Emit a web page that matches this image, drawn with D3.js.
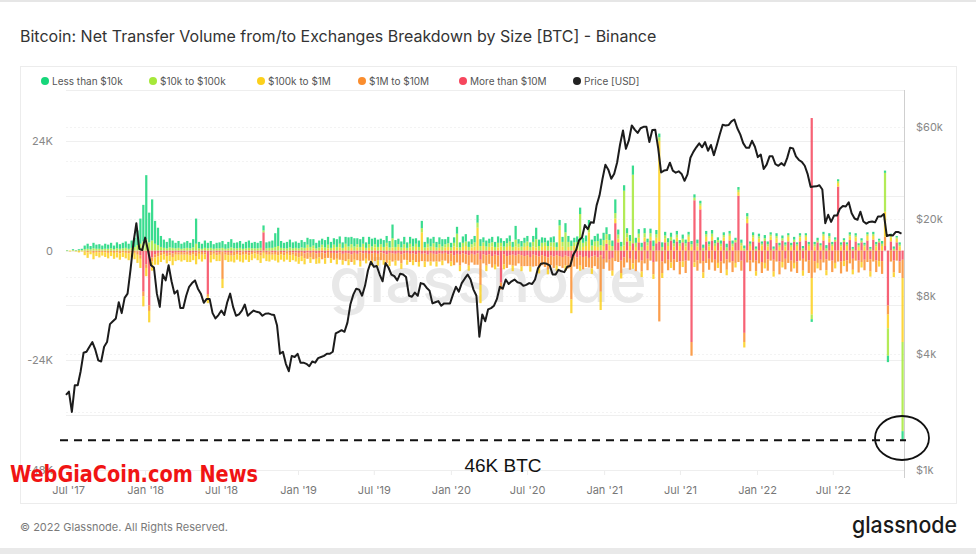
<!DOCTYPE html>
<html><head><meta charset="utf-8">
<script src="https://cdn.jsdelivr.net/npm/d3@7"></script>
<style>
html,body{margin:0;padding:0;background:#fff;}
svg{display:block;font-family:Inter,"Noto Sans",sans-serif;}
</style></head>
<body>
<svg id="c" width="976" height="554"></svg>
<script>
// ---------- DATA ----------
// weekly bins starting 2017-06-26 (286 weeks); flows in hundreds of BTC (net, + = inflow)
const seriesNames = ["Less than $10k","$10k to $100k","$100k to $1M","$1M to $10M","More than $10M"];
const lt10k = [
1,0,2,1,2,3,8,11,7,12,9,10,8,
11,9,12,8,13,10,12,14,11,16,20,32,55,
80,140,65,90,50,38,24,18,14,20,16,12,15,
11,13,15,12,18,55,14,11,16,12,15,10,12,
13,15,10,14,18,12,13,15,11,14,16,12,14,
12,15,11,13,14,16,30,40,15,12,14,17,13,
14,12,16,13,15,17,14,12,15,13,16,17,13,
14,17,16,12,15,20,16,18,13,17,15,12,16,
17,14,16,12,15,15,14,30,15,12,13,16,12,
15,17,12,14,16,12,14,17,14,12,15,16,11,
14,10,12,15,11,14,16,12,11,14,17,15,11,
13,10,12,11,14,10,12,11,13,11,30,10,12,
11,12,10,13,25,14,12,10,12,11,13,10,12,
11,20,13,12,10,12,14,11,13,15,13,12,16,
14,16,15,13,12,30,11,10,12,11,13,20,11,
10,9,11,8,10,12,9,8,10,8,9,9,8,
8,7,9,8,6,7,7,8,6,7,7,6,8,
7,6,7,6,8,6,7,5,6,7,6,7,5,
6,5,6,5,7,6,5,5,6,5,6,5,4,
5,6,4,5,5,4,5,-6,5,6,4,5,7,
6,5,5,4,5,4,4,5,4,5,4,5,4,
4,4,5,5,4,6,5,-14,4,5,3,5,-20];
const k10to100k = [
0,0,1,0,1,1,3,4,3,5,4,4,3,
4,4,5,3,5,4,5,6,4,6,8,12,15,
20,25,18,22,15,12,8,6,5,7,6,5,6,
4,5,6,5,7,15,5,4,6,5,6,4,5,
5,6,4,5,7,5,5,6,4,5,6,5,5,
5,6,4,5,6,6,8,10,6,5,5,7,5,
6,5,7,6,7,8,6,5,7,6,7,8,6,
7,8,8,6,7,9,8,9,7,8,7,6,8,
9,7,8,6,8,8,7,20,8,6,7,8,6,
8,9,7,8,9,7,8,9,8,7,8,9,7,
8,7,8,30,7,9,10,8,7,9,11,10,8,
9,8,9,8,10,8,9,8,10,8,15,8,9,
9,10,8,10,18,10,9,8,10,9,10,8,10,
10,40,11,10,8,10,80,9,10,12,11,10,13,
12,13,12,11,10,12,9,9,120,9,11,150,9,
9,8,9,7,8,10,8,8,8,7,8,8,7,
7,6,8,7,5,6,6,7,5,6,6,5,7,
6,5,6,5,7,5,6,5,5,6,5,6,5,
5,4,5,4,6,5,4,4,5,4,5,4,4,
4,5,4,4,5,4,4,-10,5,4,4,4,5,
5,4,4,4,4,4,4,4,4,4,4,4,4,
4,4,4,5,4,5,85,-60,4,4,3,4,-195];
const k100to1m = [
-1,-2,-1,-2,-3,-2,-8,-12,-6,-14,-9,-11,-8,
-10,-12,-9,-13,-11,-14,-10,-12,-15,-11,-14,-18,-20,
-22,-18,-25,-20,-16,-18,-15,-12,-16,-13,-18,-14,-12,
-15,-12,-16,-14,-13,-18,-12,-15,-11,-14,-16,-12,-13,
-14,-20,-12,-15,-13,-16,-12,-14,-17,-12,-15,-13,-11,
-13,-16,-12,-14,-15,-11,-13,-16,-12,-14,-13,-15,-12,
-12,-14,-11,-13,6,-12,5,-11,-13,7,-12,5,-10,
6,-12,7,-10,8,-13,6,-11,7,-12,8,-10,6,
-11,7,-12,8,-10,9,-13,7,-11,8,-12,6,-10,
7,-11,8,-10,40,-12,7,-9,8,-11,6,-10,7,
8,-10,9,7,-12,8,10,-11,7,9,50,-40,10,
-12,8,9,-10,7,9,-11,8,10,-12,9,7,-10,
8,10,-11,9,7,-12,8,10,-10,9,8,-11,45,
9,-12,8,-30,10,9,-11,8,10,40,-12,10,8,
-40,10,9,12,-11,10,8,-12,11,9,10,-12,8,
10,-12,9,11,8,-10,12,220,-11,8,10,-12,9,
8,10,-12,9,11,8,-10,9,8,-12,10,9,8,
10,-11,9,8,-12,10,9,-10,8,11,-12,9,10,
9,-10,8,11,-12,9,8,-11,10,8,-12,9,10,
8,-12,10,9,-11,8,10,-80,9,-12,8,10,-11,
9,10,-12,8,9,-11,10,8,-10,9,8,-12,9,
10,-11,8,9,-12,10,55,-30,9,-10,8,9,-140];
const m1to10m = [
0,0,0,0,-1,0,-2,-4,-2,-5,-3,-4,-3,
-4,-5,-3,-5,-4,-6,-4,-5,-6,-4,-5,-7,-8,
-10,-8,-12,-9,-7,-8,-6,-5,-7,-6,-8,-6,-5,
-6,-5,-7,-6,-5,-8,-5,-6,-4,-6,-7,-5,-6,
-6,-60,-5,-7,-6,-8,-5,-6,-7,-5,-6,-5,-4,
-5,-7,-5,-6,-7,-5,-6,-8,-5,-6,-5,-7,-5,
-8,-10,-9,-11,-14,-10,-16,-12,-10,-15,-11,-13,-12,
-15,-12,-16,-14,-18,-13,-17,-15,-14,-19,-16,-13,-15,
-16,-18,-14,-17,-15,-19,-16,-18,-15,-17,-20,-14,-16,
-18,-15,-17,-20,-16,-18,-15,-19,-17,-16,-18,-15,-17,
-20,-18,-22,-19,-24,-20,-21,-23,-19,-22,-25,-55,-20,
-23,-21,-25,-22,-24,-15,-22,-26,-21,-24,-22,-20,-25,
-22,-24,-21,-26,-23,-25,-22,-24,-27,-21,-25,-23,-22,
-24,-21,-26,-90,-23,-25,-22,-27,-24,-21,-26,-23,-25,
-80,-22,-26,-24,-28,-23,-25,-27,-22,-26,-24,-28,-25,
-26,-24,-28,-25,-22,-27,-24,-155,-25,-28,-23,-26,-24,
-25,-28,-24,-27,-22,-30,-26,-23,-28,-25,-27,-24,-26,
-24,-27,-25,-28,-23,-26,-24,-27,-25,-22,-20,-26,-24,
-26,-23,-28,-24,-27,-25,-22,-26,-24,-28,-25,-23,-27,
-24,-27,-25,-22,-26,-24,-28,-60,-25,-27,-23,-26,-24,
-22,-25,-27,-24,-26,-23,-25,-28,-24,-22,-26,-25,-23,
-25,-27,-24,-26,-23,-28,20,-20,-24,-26,-22,-25,-40];
const gt10m = [
0,0,0,0,0,0,0,0,0,0,0,0,0,
0,0,0,0,0,0,0,0,0,0,0,-2,-10,
-90,-30,-120,-15,-8,-5,-4,-3,-5,-4,-6,-3,-4,
-3,-4,-2,-5,-3,-4,-2,-3,-4,-95,-3,-2,-4,
-3,-2,-4,-3,-5,-2,-3,-4,-2,-3,-4,-3,-2,
-3,-4,40,-3,-2,-4,-3,-2,-3,-4,-2,-3,-4,
-4,-5,-3,-6,-4,-5,-3,-6,-5,-4,-6,-3,-5,
-5,-6,-4,-7,-5,-6,-8,-5,-7,-4,-6,-5,-7,
-6,-5,-7,-4,-6,-8,-5,-6,-7,-5,-8,-6,-5,
-7,-6,-8,-5,-7,-6,-9,-5,-7,-8,-6,-7,-5,
-8,-6,-10,-7,-9,-6,-8,-10,-7,-9,-6,-20,-8,
-10,-8,-12,-9,-11,-70,-8,-12,-10,-9,-11,-8,-10,
-12,-10,-14,-9,-11,-13,-10,-12,-15,-11,-13,-10,-12,
-14,-11,-13,-17,-12,-15,-11,-14,-12,-16,-13,-11,-15,
-10,-18,15,-20,-16,60,18,-22,-15,20,-18,16,-20,
18,-22,20,-18,22,-25,16,20,-24,18,-20,22,-19,
20,-24,18,-22,19,-200,110,-21,90,-23,20,-18,22,
-20,18,-24,21,-19,22,-23,18,120,-22,-180,60,-21,
20,-22,18,-25,21,-19,23,-20,17,-24,22,-18,20,
-22,19,-24,20,-18,22,-21,290,-23,18,-20,22,-19,
18,-22,20,140,-24,19,-21,23,-18,20,-22,18,-20,
22,-19,24,-21,18,-23,10,-120,20,-22,18,-24,-20];
// BTC price (USD), weekly, same weeks
const priceUSD = [
2450,2550,2000,2750,2750,3250,4050,4100,4350,4600,4200,3700,3650,4350,4600,5700,5900,6100,7400,6500,7800,8200,10900,15000,19000,14000,13800,
16000,13700,11500,11200,8200,7000,10300,9600,11500,9500,8200,8500,6900,6900,8000,8900,9300,9600,8700,8200,7350,7700,7700,6500,6100,6350,6700,6350,7400,8200,7000,6300,6400,6700,7200,6300,6500,6700,6600,6550,6300,6450,6480,6400,6350,5600,4000,4100,3550,3250,3900,3850,4000,
3600,3600,3550,3450,3650,3600,3800,3850,3900,4000,4000,4100,5100,5200,5300,5200,5800,7200,8100,8700,8600,8000,9000,10800,12000,11300,11400,10300,9500,11800,11200,10300,10100,9600,10400,10300,10000,8000,7900,8300,8000,9300,9200,8800,8500,7300,7400,7500,7100,7300,7300,7300,
8100,8900,8400,9300,9800,10300,9700,8600,8000,4900,6400,5900,6800,6900,7100,7700,8900,8700,9700,9200,9500,9700,9400,9300,9000,9100,9300,9200,9700,11100,11700,11800,11700,11500,10300,10300,10900,10700,10600,11300,11400,13000,13800,15500,16000,18600,17700,19200,19100,23500,26500,32200,
38200,36000,32300,34300,39200,48600,57500,46200,51000,61000,58000,55800,59000,60000,60000,50000,57800,58000,46500,34800,35600,35800,39100,35600,34700,35300,34200,31500,34000,41500,44500,47000,49300,47000,50000,45100,48300,42800,48200,54700,61500,61000,61300,64000,65500,59000,54800,49400,46700,46700,50800,47300,
41800,43100,36300,38200,42200,42200,38400,37700,38900,37800,41300,46800,46400,42200,40400,39500,37700,34100,29300,29400,29500,29900,28400,19000,21000,19300,20800,20800,22600,23300,23200,24400,21400,20100,19800,21800,19400,18900,19300,19400,19200,20600,20600,21200,16300,16500,16400,17100,17100,16800];
const leftTicks = [-48000,-24000,0,24000];
const rightTicks = [1000,4000,8000,20000,60000];
const xTickLabels = ["Jul '17","Jan '18","Jul '18","Jan '19","Jul '19","Jan '20","Jul '20","Jan '21","Jul '21","Jan '22","Jul '22"];
const xTickDates = ["2017-07-01","2018-01-01","2018-07-01","2019-01-01","2019-07-01","2020-01-01","2020-07-01","2021-01-01","2021-07-01","2022-01-01","2022-07-01"];
const annotationText = "46K BTC";
const annotationLevel = -41500;

// ---------- BUILD ----------
const colors = {lt10k:"#16d67a",k10to100k:"#a6e83a",k100to1m:"#fcd01c",m1to10m:"#fa8d2e",gt10m:"#f6465d"};
const legendColors = ["#16d67a","#a6e83a","#fcd01c","#fa8d2e","#f6465d","#222"];
const startMs = Date.UTC(2017,5,26);
const DAY = 864e5;
const rows = priceUSD.map((p,i)=>({
  date:new Date(startMs + i*7*DAY),
  end:new Date(startMs + (i+1)*7*DAY),
  price:p,
  gt10m:gt10m[i]*100, m1to10m:m1to10m[i]*100, k100to1m:k100to1m[i]*100,
  k10to100k:k10to100k[i]*100, lt10k:lt10k[i]*100
}));

const svg = d3.select("#c");
const L=66,R=904,T=90,B=470;
const x = d3.scaleUtc().domain([new Date(startMs), new Date(Date.UTC(2022,11,18))]).range([L,R]);
const yL = d3.scaleLinear().domain([-48000, 35130]).range([B,T]);
const yR = d3.scaleLog().domain([1000, 93100]).range([B,T]);

// page frame
svg.append("rect").attr("x",0).attr("y",0).attr("width",976).attr("height",2).attr("fill","#e6e6e6");
svg.append("rect").attr("x",0).attr("y",548).attr("width",976).attr("height",6).attr("fill","#e9e9e9");
svg.append("rect").attr("x",20.5).attr("y",66.5).attr("width",936).attr("height",437).attr("fill","none").attr("stroke","#ececec");

// title
svg.append("text").attr("x",20).attr("y",42).attr("font-size",16).attr("fill","#333")
  .text("Bitcoin: Net Transfer Volume from/to Exchanges Breakdown by Size [BTC] - Binance");

// legend
const legX=[45,153,261,362,463,577];
[...seriesNames,"Price [USD]"].forEach((n,i)=>{
  svg.append("circle").attr("cx",legX[i]).attr("cy",81).attr("r",4).attr("fill",legendColors[i]);
  svg.append("text").attr("x",legX[i]+7).attr("y",84.5).attr("font-size",10).attr("fill","#555").text(n);
});
svg.append("line").attr("x1",L).attr("x2",R).attr("y1",T+0.5).attr("y2",T+0.5).attr("stroke","#eeeeee");

// grid
const gridL=[24000,12000,0,-12000,-24000,-36000];
const gridR=[60000,40000,20000,10000,8000,4000,2000];
svg.append("g").selectAll("line").data(gridL).join("line")
  .attr("x1",L).attr("x2",R).attr("y1",d=>Math.round(yL(d))+0.5).attr("y2",d=>Math.round(yL(d))+0.5)
  .attr("stroke","#efefef");
svg.append("g").selectAll("line").data(gridR).join("line")
  .attr("x1",L).attr("x2",R).attr("y1",d=>Math.round(yR(d))+0.5).attr("y2",d=>Math.round(yR(d))+0.5)
  .attr("stroke","#f3f3f3").attr("stroke-dasharray","2,2");

// watermark
svg.append("text").attr("x",488).attr("y",302).attr("text-anchor","middle")
  .attr("font-size",62).attr("font-weight",500).attr("fill","#e8e8e8")
  .attr("textLength",318).attr("lengthAdjust","spacingAndGlyphs").text("glassnode");

// bars
const keys=["gt10m","m1to10m","k100to1m","k10to100k","lt10k"];
const stack = d3.stack().keys(keys).offset(d3.stackOffsetDiverging)(rows);
const bars = svg.append("g");
stack.forEach(layer=>{
  bars.append("g").attr("fill",colors[layer.key]).attr("fill-opacity",0.85)
    .selectAll("rect").data(layer.filter(p=>p[0]!==p[1])).join("rect")
    .attr("x",p=>x(p.data.date))
    .attr("width",p=>Math.max(1,x(p.data.end)-x(p.data.date)-0.7))
    .attr("y",p=>yL(Math.max(p[0],p[1])))
    .attr("height",p=>Math.abs(yL(p[0])-yL(p[1])));
});

// price line
svg.append("path").datum(rows).attr("fill","none").attr("stroke","#1c1c1c").attr("stroke-width",2)
  .attr("stroke-linejoin","round")
  .attr("d",d3.line().x(d=>x(d.date)).y(d=>yR(d.price)));

// right border
svg.append("line").attr("x1",R+0.5).attr("x2",R+0.5).attr("y1",T).attr("y2",B+8).attr("stroke","#cfcfcf");

// axes
const fmtK = d=> d===0?"0":(d/1000)+"K";
const gl = svg.append("g").attr("transform",`translate(${L},0)`)
  .call(d3.axisLeft(yL).tickValues(leftTicks).tickFormat(fmtK).tickSize(0).tickPadding(13));
const gr = svg.append("g").attr("transform",`translate(${R},0)`)
  .call(d3.axisRight(yR).tickValues(rightTicks).tickFormat(d=>"$"+(d/1000)+"k").tickSize(0).tickPadding(12));
const xDates = xTickDates.map(s=>new Date(s+"T00:00:00Z"));
const gb = svg.append("g").attr("transform",`translate(0,${B})`)
  .call(d3.axisBottom(x).tickValues(xDates).tickFormat((d,i)=>xTickLabels[i]).tickSize(5).tickPadding(11));
[gl,gr,gb].forEach(g=>{
  g.select(".domain").remove();
  g.selectAll("text").attr("fill","#888").attr("font-size",11).attr("font-family","Inter,'Noto Sans',sans-serif");
  g.selectAll("line").attr("stroke","#ececec");
});
gb.selectAll("text").attr("fill","#777");
svg.append("line").attr("x1",L).attr("x2",R).attr("y1",B+0.5).attr("y2",B+0.5).attr("stroke","#eeeeee");

// footer
svg.append("text").attr("x",20).attr("y",531).attr("font-size",11).attr("fill","#7a7a7a")
  .text("© 2022 Glassnode. All Rights Reserved.");
svg.append("text").attr("x",957).attr("y",533).attr("text-anchor","end").attr("font-size",23)
  .attr("font-weight",500).attr("fill","#1a1a1a").attr("textLength",105).attr("lengthAdjust","spacingAndGlyphs")
  .text("glassnode");

// annotations
const ay = yL(annotationLevel);
svg.append("line").attr("x1",60).attr("x2",R+2).attr("y1",ay).attr("y2",ay)
  .attr("stroke","#111").attr("stroke-width",2).attr("stroke-dasharray","8,6");
svg.append("text").attr("x",503).attr("y",472).attr("text-anchor","middle")
  .attr("font-family","'Liberation Sans',Arial,sans-serif").attr("font-size",19).attr("fill","#111").text(annotationText);
svg.append("ellipse").attr("cx",902).attr("cy",438).attr("rx",27).attr("ry",22)
  .attr("fill","none").attr("stroke","#111").attr("stroke-width",1.8);

// overlay brand text
svg.append("text").attr("x",10).attr("y",482).attr("font-family","'DejaVu Sans Condensed','DejaVu Sans',sans-serif")
  .attr("font-weight","bold").attr("font-size",23).attr("fill","#f01414")
  .attr("textLength",248).attr("lengthAdjust","spacingAndGlyphs").text("WebGiaCoin.com News");
</script>
</body></html>
